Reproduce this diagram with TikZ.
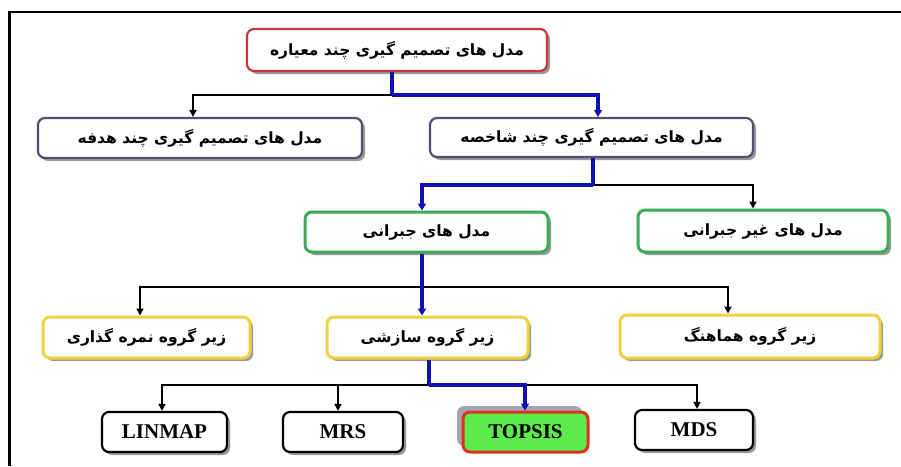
\documentclass[tikz,border=0pt]{standalone}
\usepackage{fontspec}
\setmainfont{Liberation Serif}
\newfontfamily\fa[Script=Arabic]{DejaVu Sans}
\TeXXeTstate=1
\usetikzlibrary{arrows.meta,shadows}
\definecolor{redb}{HTML}{C8353A}
\definecolor{purb}{HTML}{5A4C6E}
\definecolor{greenb}{HTML}{3DAA55}
\definecolor{yelb}{HTML}{F2D23C}
\definecolor{linkblue}{HTML}{1010B4}
\definecolor{topsfill}{HTML}{5CEB4A}
\definecolor{topsred}{HTML}{E0301E}
\definecolor{topshad}{HTML}{A4A4B4}
\tikzset{
  box/.style={draw, rounded corners=7pt, fill=white, line width=2.2pt, inner sep=0pt,
    drop shadow={shadow xshift=3pt, shadow yshift=-3pt, fill=black!50, opacity=0.8}},
  fatext/.style={font=\fa\bfseries\fontsize{15.5}{18}\selectfont},
  latext/.style={font=\bfseries\fontsize{21}{24}\selectfont},
  blk/.style={draw=black, line width=2.2pt, -{Triangle[length=7pt,width=7pt]}},
  blu/.style={draw=linkblue, line width=3.2pt, -{Triangle[length=7pt,width=8pt]}},
  bluline/.style={draw=linkblue, line width=3.2pt},
}
\begin{document}
\begin{tikzpicture}[x=1pt,y=-1pt]
\useasboundingbox (0,0) rectangle (901,466);
% frame
\draw[line width=2.5pt] (9.5,466) -- (9.5,12) -- (901,12);

% nodes
\node[box, draw=redb, fatext, minimum width=300pt, minimum height=42pt] (top) at (397,50) {\beginR مدل های تصمیم گیری چند معیاره\endR};
\node[box, draw=purb, fatext, minimum width=324pt, minimum height=40pt] (mo) at (200,138) {\beginR مدل های تصمیم گیری چند هدفه\endR};
\node[box, draw=purb, fatext, minimum width=323pt, minimum height=39pt] (ma) at (591.5,137.5) {\beginR مدل های تصمیم گیری چند شاخصه\endR};
\node[box, draw=greenb, line width=3pt, fatext, minimum width=243pt, minimum height=40pt] (jb) at (426.5,232) {\beginR مدل های جبرانی\endR};
\node[box, draw=greenb, line width=3pt, fatext, minimum width=250pt, minimum height=42pt] (gj) at (763,231) {\beginR مدل های غیر جبرانی\endR};
\node[box, draw=yelb, line width=3pt, fatext, minimum width=207pt, minimum height=41pt] (nm) at (146.5,337.5) {\beginR زیر گروه نمره گذاری\endR};
\node[box, draw=yelb, line width=3pt, fatext, minimum width=201pt, minimum height=41pt] (sz) at (427.5,337.5) {\beginR زیر گروه سازشی\endR};
\node[box, draw=yelb, line width=3pt, fatext, minimum width=260pt, minimum height=43pt] (hm) at (750,336.5) {\beginR زیر گروه هماهنگ\endR};
\node[box, latext, minimum width=125pt, minimum height=40pt] (li) at (164.5,432) {LINMAP};
\node[box, latext, minimum width=120pt, minimum height=40pt] (mrs) at (343,432) {MRS};
\node[draw=topsred, fill=topsfill, rounded corners=7pt, line width=3pt, inner sep=0pt,
  latext, minimum width=125pt, minimum height=40pt,
  drop shadow={shadow xshift=-6pt, shadow yshift=6pt, fill=topshad, opacity=1}] (tp) at (525.5,432) {TOPSIS};
\node[box, latext, minimum width=118pt, minimum height=40pt] (mds) at (694,430) {MDS};

% junctions
\coordinate (j1) at (392,95);
\coordinate (j2) at (593,185);
\coordinate (j3) at (422,287);
\coordinate (j4) at (429,385);

% level 1
\draw[blk] (j1) -| ([xshift=-7pt]mo.north);
\draw[bluline] (top.south -| j1) -- (j1);
\draw[blu] (j1) -| ([xshift=6.5pt]ma.north);
% level 2
\draw[blk] (j2) -| ([xshift=-10pt]gj.north);
\draw[bluline] (ma.south -| j2) -- (j2);
\draw[blu] (j2) -| ([xshift=-4.5pt]jb.north);
% level 3
\draw[blk] (j3) -| ([xshift=-6.5pt]nm.north);
\draw[blk] (j3) -| ([xshift=-22pt]hm.north);
\draw[blu] (jb.south -| j3) -- ([xshift=-5.5pt]sz.north);
% level 4
\draw[blk] (j4) -| ([xshift=-2.5pt]li.north);
\draw[blk] (j4) -| ([xshift=-5pt]mrs.north);
\draw[blk] (j4) -| ([xshift=3pt]mds.north);
\draw[bluline] (sz.south -| j4) -- (j4);
\draw[blu] (j4) -| ([xshift=-0.5pt]tp.north);
\end{tikzpicture}
\end{document}
